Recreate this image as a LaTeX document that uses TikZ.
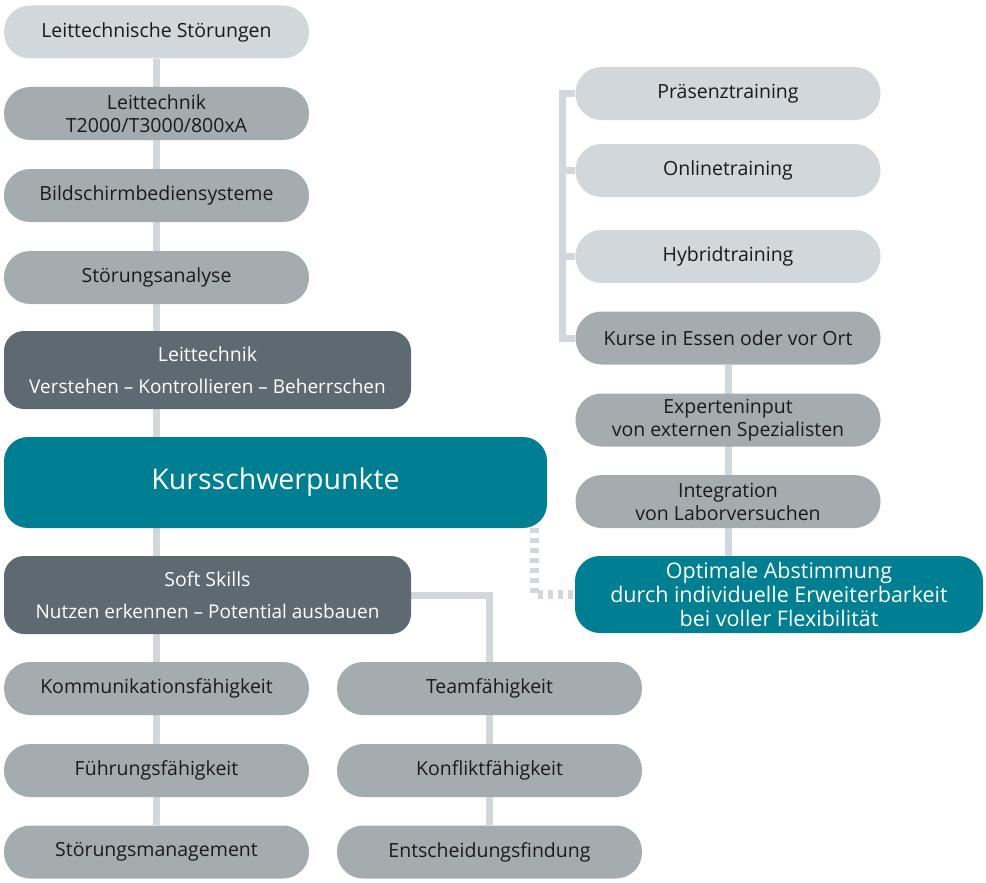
\documentclass[tikz,border=0pt]{standalone}
\usepackage{fontspec}
\setmainfont{Open Sans}
\usetikzlibrary{backgrounds}
\definecolor{hellgrau}{HTML}{D1D7DB}
\definecolor{mittelgrau}{HTML}{A5ACB0}
\definecolor{dunkelgrau}{HTML}{5E6A71}
\definecolor{petrol}{HTML}{007F93}
\definecolor{schrift}{HTML}{1A1A1A}
\begin{document}
\begin{tikzpicture}[x=1pt,y=-1pt,
    pill/.style={minimum width=305pt,minimum height=53pt,rounded corners=26pt,inner sep=0pt,
      align=center,text=schrift,font=\fontsize{19.5}{23}\selectfont},
    hell/.style={pill,fill=hellgrau},
    mittel/.style={pill,fill=mittelgrau},
    dunkel/.style={minimum width=407pt,minimum height=78pt,rounded corners=20pt,inner sep=0pt,
      align=center,fill=dunkelgrau,text=white,font=\fontsize{19.5}{23}\selectfont},
    conn/.style={draw=hellgrau,line width=7pt},
    punktiert/.style={draw=hellgrau,line width=9pt,dash pattern=on 5pt off 5pt}]
    \useasboundingbox (0,0) rectangle (986,883);

    \node[hell] (ls) at (156.5,32) {Leittechnische Störungen};
    \node[mittel] (lt) at (156.5,113.5) {Leittechnik\\T2000/T3000/800xA};
    \node[mittel] (bs) at (156.5,195.5) {Bildschirmbediensysteme};
    \node[mittel] (sa) at (156.5,277.5) {Störungsanalyse};
    \node[dunkel] (lk) at (207.5,370) {Leittechnik\\[9pt]{\fontsize{19}{21}\selectfont Verstehen – Kontrollieren – Beherrschen}};
    \node[fill=petrol,text=white,minimum width=543pt,minimum height=91pt,rounded corners=24pt,
      font=\fontsize{28.5}{32}\selectfont] (ks) at (275.5,482.5) {Kursschwerpunkte};
    \node[dunkel] (sk) at (207.5,595) {Soft Skills\\[9pt]{\fontsize{19}{21}\selectfont Nutzen erkennen – Potential ausbauen}};
    \node[mittel] (kf) at (156.5,688.5) {Kommunikationsfähigkeit};
    \node[mittel] (ff) at (156.5,770.5) {Führungsfähigkeit};
    \node[mittel] (sm) at (156.5,852) {Störungsmanagement};
    \node[mittel] (tf) at (489.5,688.5) {Teamfähigkeit};
    \node[mittel] (kof) at (489.5,770.5) {Konfliktfähigkeit};
    \node[mittel] (ef) at (489.5,852) {Entscheidungsfindung};

    \node[hell] (pt) at (728,93.5) {Präsenztraining};
    \node[hell] (ot) at (728,170.5) {Onlinetraining};
    \node[hell] (ht) at (728,256.5) {Hybridtraining};
    \node[mittel] (ke) at (728,338) {Kurse in Essen oder vor Ort};
    \node[mittel] (ei) at (728,420) {Experteninput\\von externen Spezialisten};
    \node[mittel] (iv) at (728,501.5) {Integration\\von Laborversuchen};
    \node[pill,fill=petrol,text=white,minimum width=408pt,minimum height=77pt,rounded corners=25pt,
      font=\fontsize{21.5}{24}\selectfont] (oa) at (779,594.5)
      {Optimale Abstimmung\\durch individuelle Erweiterbarkeit\\bei voller Flexibilität};

    \begin{pgfonlayer}{background}
        \draw[conn] (ls) -- (sm);
        \draw[conn] (sk.east) -| (tf.north);
        \draw[conn] (tf) -- (ef);
        \draw[conn] (pt.west) -- ++(-13,0) |- (ke.west);
        \draw[conn] (ot.west) -- ++(-13,0);
        \draw[conn] (ht.west) -- ++(-13,0);
        \draw[conn] (ke.south) -- (ke.south |- oa.north);
        \draw[punktiert] ([xshift=-13pt]ks.south east) |- (oa.west);
    \end{pgfonlayer}
\end{tikzpicture}
\end{document}
